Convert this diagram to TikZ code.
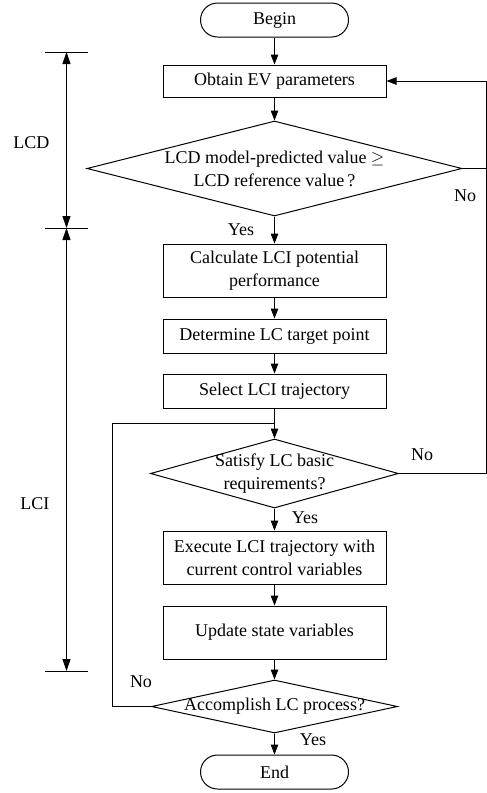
\documentclass[tikz,border=0pt]{standalone}
\usepackage{amsmath, amssymb}
\usepackage{fontspec}
\setmainfont{Liberation Serif}
\usepackage{tikz}
\usetikzlibrary{shapes.geometric, arrows.meta}

\begin{document}
\begin{tikzpicture}[
    x=1pt, y=-1pt,
    every node/.style={font=\fontsize{18}{23}\selectfont},
    process/.style={draw, line width=1pt, minimum width=223pt, align=center, inner sep=0pt},
    terminal/.style={draw, line width=1pt, rounded corners=17pt, minimum width=148pt, minimum height=34pt},
    decision/.style n args={2}{draw, line width=1pt, shape=diamond, inner sep=0pt, minimum width=#1, minimum height=#2},
    flow/.style={draw, line width=1pt, -{Triangle[length=10pt, width=7.5pt]}},
    span/.style={draw, line width=1pt, {Triangle[length=12pt, width=8pt]}-{Triangle[length=12pt, width=8pt]}},
    tick/.style={draw, line width=1pt},
]
\useasboundingbox (0,0) rectangle (487,793);

% Flowchart
\node[terminal] (begin) at (274.5,20) {Begin};
\node[process, minimum height=32pt] (obtain) at (274.5,81) {Obtain EV parameters};
\node[decision={375pt}{95pt}, label={[align=center]center:LCD model-predicted value $\geq$\\LCD reference value\,?}] (lcd) at (274.5,168.5) {};
\node[process, minimum height=53pt] (calc) at (274.5,270.5) {Calculate LCI potential\\performance};
\node[process, minimum height=34pt] (target) at (274.5,336) {Determine LC target point};
\node[process, minimum height=34pt] (select) at (274.5,391) {Select LCI trajectory};
\coordinate (join) at (274.5,423);
\node[decision={248pt}{69pt}, label={[align=center]center:Satisfy LC basic\\requirements?}] (basic) at (274.5,473.5) {};
\node[process, minimum height=53pt] (execute) at (274.5,557.5) {Execute LCI trajectory with\\current control variables};
\node[process, minimum height=53pt] (update) at (274.5,632.5) {Update state variables};
\node[decision={246pt}{53pt}, label={center:Accomplish LC process?}] (finish) at (274.5,706.5) {};
\node[terminal] (end) at (274.5,772) {End};

% Connectors
\draw[flow] (begin) -- (obtain);
\draw[flow] (obtain) -- (lcd);
\draw[flow] (lcd) -- (calc);
\draw[flow] (calc) -- (target);
\draw[flow] (target) -- (select);
\draw[line width=1pt] (select) -- (join);
\draw[flow] (join) -- (basic);
\draw[flow] (basic) -- (execute);
\draw[flow] (execute) -- (update);
\draw[flow] (update) -- (finish);
\draw[flow] (finish) -- (end);

% Feedback loops
\coordinate (rightturn) at (486,81);
\coordinate (leftturn) at (112,423);
\draw[flow] (lcd.east) -| (rightturn) -- (obtain.east);
\draw[line width=1pt] (basic.east) -| (rightturn);
\draw[line width=1pt] (finish.west) -| (leftturn) -- (join);

% Yes / No
\node (no1) at (465,196) {No};
\node (yes1) at (241,230) {Yes};
\node (no2) at (422,455) {No};
\node (yes2) at (305,518) {Yes};
\node (no3) at (141,682) {No};
\node (yes3) at (313,740) {Yes};

% Phase spans
\coordinate (lcdtop) at (66.5,52);
\coordinate (lcdmid) at (66.5,228);
\coordinate (lcibot) at (66.5,671);
\foreach \c in {lcdtop, lcdmid, lcibot}
    \draw[tick] ([xshift=-21.5pt]\c) -- ([xshift=21.5pt]\c);
\draw[span] (lcdtop) -- (lcdmid);
\draw[span] (lcdmid) -- (lcibot);
\node[anchor=east] (lcdlabel) at (53,143) {LCD};
\node[anchor=east] (lcilabel) at (53,504) {LCI};

\end{tikzpicture}
\end{document}
